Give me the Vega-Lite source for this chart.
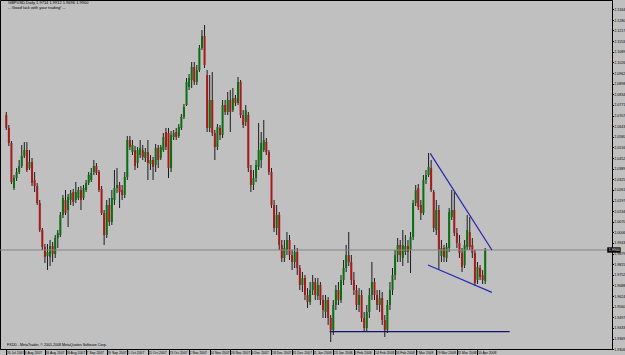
{
  "$schema": "https://vega.github.io/schema/vega-lite/v6.json",
  "width": 612,
  "height": 349,
  "autosize": {"type": "none"},
  "padding": {"left": 0, "top": 0, "right": 13, "bottom": 6},
  "background": "#c0c0c0",
  "config": {
    "view": {"stroke": "#000000", "strokeWidth": 1, "fill": "#c0c0c0"},
    "axis": {"title": null, "grid": false, "labelOverlap": false, "labelBound": false, "labelFlush": false, "labelFont": "Liberation Sans", "labelColor": "#000000", "tickColor": "#000000", "domainColor": "#000000", "tickCount": 200},
    "font": "Liberation Sans"
  },
  "datasets": {
    "ohlc": [
      {"i":0,"o":2.0710,"h":2.0728,"l":2.0620,"c":2.0632},
      {"i":1,"o":2.0632,"h":2.0650,"l":2.0524,"c":2.0542},
      {"i":2,"o":2.0542,"h":2.0554,"l":2.0296,"c":2.0308},
      {"i":3,"o":2.0272,"h":2.0350,"l":2.0260,"c":2.0332},
      {"i":4,"o":2.0332,"h":2.0392,"l":2.0314,"c":2.0368},
      {"i":5,"o":2.0368,"h":2.0440,"l":2.0356,"c":2.0404},
      {"i":6,"o":2.0404,"h":2.0530,"l":2.0392,"c":2.0464},
      {"i":7,"o":2.0464,"h":2.0548,"l":2.0452,"c":2.0500},
      {"i":8,"o":2.0500,"h":2.0548,"l":2.0368,"c":2.0380},
      {"i":9,"o":2.0392,"h":2.0500,"l":2.0380,"c":2.0428},
      {"i":10,"o":2.0428,"h":2.0452,"l":2.0284,"c":2.0302},
      {"i":11,"o":2.0320,"h":2.0368,"l":2.0248,"c":2.0284},
      {"i":12,"o":2.0284,"h":2.0302,"l":2.0170,"c":2.0182},
      {"i":13,"o":2.0182,"h":2.0200,"l":2.0008,"c":2.0020},
      {"i":14,"o":2.0020,"h":2.0032,"l":1.9900,"c":1.9918},
      {"i":15,"o":1.9918,"h":1.9936,"l":1.9822,"c":1.9858},
      {"i":16,"o":1.9864,"h":1.9936,"l":1.9780,"c":1.9888},
      {"i":17,"o":1.9858,"h":1.9960,"l":1.9804,"c":1.9924},
      {"i":18,"o":1.9924,"h":1.9948,"l":1.9828,"c":1.9876},
      {"i":19,"o":1.9876,"h":1.9990,"l":1.9852,"c":1.9972},
      {"i":20,"o":1.9972,"h":2.0020,"l":1.9912,"c":2.0002},
      {"i":21,"o":1.9990,"h":2.0128,"l":1.9978,"c":2.0110},
      {"i":22,"o":2.0110,"h":2.0230,"l":2.0092,"c":2.0212},
      {"i":23,"o":2.0200,"h":2.0260,"l":2.0110,"c":2.0122},
      {"i":24,"o":2.0140,"h":2.0236,"l":2.0038,"c":2.0218},
      {"i":25,"o":2.0200,"h":2.0260,"l":2.0170,"c":2.0242},
      {"i":26,"o":2.0248,"h":2.0266,"l":2.0164,"c":2.0188},
      {"i":27,"o":2.0200,"h":2.0308,"l":2.0182,"c":2.0248},
      {"i":28,"o":2.0212,"h":2.0278,"l":2.0200,"c":2.0260},
      {"i":29,"o":2.0260,"h":2.0284,"l":2.0140,"c":2.0200},
      {"i":30,"o":2.0212,"h":2.0290,"l":2.0200,"c":2.0272},
      {"i":31,"o":2.0260,"h":2.0320,"l":2.0248,"c":2.0302},
      {"i":32,"o":2.0302,"h":2.0368,"l":2.0290,"c":2.0350},
      {"i":33,"o":2.0320,"h":2.0392,"l":2.0308,"c":2.0362},
      {"i":34,"o":2.0368,"h":2.0440,"l":2.0350,"c":2.0404},
      {"i":35,"o":2.0404,"h":2.0422,"l":2.0350,"c":2.0362},
      {"i":36,"o":2.0368,"h":2.0380,"l":2.0248,"c":2.0260},
      {"i":37,"o":2.0266,"h":2.0284,"l":2.0110,"c":2.0122},
      {"i":38,"o":2.0122,"h":2.0140,"l":1.9930,"c":1.9990},
      {"i":39,"o":1.9990,"h":2.0200,"l":1.9972,"c":2.0170},
      {"i":40,"o":2.0170,"h":2.0212,"l":2.0044,"c":2.0068},
      {"i":41,"o":2.0068,"h":2.0260,"l":2.0050,"c":2.0212},
      {"i":42,"o":2.0200,"h":2.0380,"l":2.0170,"c":2.0272},
      {"i":43,"o":2.0272,"h":2.0392,"l":2.0242,"c":2.0290},
      {"i":44,"o":2.0290,"h":2.0308,"l":2.0152,"c":2.0248},
      {"i":45,"o":2.0260,"h":2.0290,"l":2.0200,"c":2.0230},
      {"i":46,"o":2.0230,"h":2.0368,"l":2.0212,"c":2.0338},
      {"i":47,"o":2.0338,"h":2.0584,"l":2.0320,"c":2.0560},
      {"i":48,"o":2.0560,"h":2.0584,"l":2.0500,"c":2.0518},
      {"i":49,"o":2.0488,"h":2.0560,"l":2.0470,"c":2.0530},
      {"i":50,"o":2.0500,"h":2.0524,"l":2.0380,"c":2.0404},
      {"i":51,"o":2.0422,"h":2.0518,"l":2.0392,"c":2.0500},
      {"i":52,"o":2.0470,"h":2.0560,"l":2.0452,"c":2.0512},
      {"i":53,"o":2.0500,"h":2.0530,"l":2.0440,"c":2.0458},
      {"i":54,"o":2.0452,"h":2.0512,"l":2.0428,"c":2.0488},
      {"i":55,"o":2.0488,"h":2.0560,"l":2.0320,"c":2.0422},
      {"i":56,"o":2.0416,"h":2.0470,"l":2.0380,"c":2.0440},
      {"i":57,"o":2.0440,"h":2.0458,"l":2.0320,"c":2.0398},
      {"i":58,"o":2.0410,"h":2.0536,"l":2.0368,"c":2.0512},
      {"i":59,"o":2.0512,"h":2.0530,"l":2.0392,"c":2.0440},
      {"i":60,"o":2.0452,"h":2.0530,"l":2.0440,"c":2.0518},
      {"i":61,"o":2.0500,"h":2.0602,"l":2.0488,"c":2.0578},
      {"i":62,"o":2.0608,"h":2.0632,"l":2.0500,"c":2.0518},
      {"i":63,"o":2.0602,"h":2.0632,"l":2.0332,"c":2.0392},
      {"i":64,"o":2.0392,"h":2.0614,"l":2.0368,"c":2.0590},
      {"i":65,"o":2.0578,"h":2.0620,"l":2.0560,"c":2.0602},
      {"i":66,"o":2.0608,"h":2.0632,"l":2.0560,"c":2.0578},
      {"i":67,"o":2.0584,"h":2.0656,"l":2.0572,"c":2.0638},
      {"i":68,"o":2.0632,"h":2.0716,"l":2.0620,"c":2.0698},
      {"i":69,"o":2.0698,"h":2.0776,"l":2.0686,"c":2.0758},
      {"i":70,"o":2.0770,"h":2.0932,"l":2.0764,"c":2.0908},
      {"i":71,"o":2.0878,"h":2.0956,"l":2.0860,"c":2.0932},
      {"i":72,"o":2.0920,"h":2.1028,"l":2.0872,"c":2.0998},
      {"i":73,"o":2.0998,"h":2.1028,"l":2.0890,"c":2.0908},
      {"i":74,"o":2.0908,"h":2.1010,"l":2.0890,"c":2.0980},
      {"i":75,"o":2.0980,"h":2.1130,"l":2.0968,"c":2.1112},
      {"i":76,"o":2.1112,"h":2.1220,"l":2.1100,"c":2.1184},
      {"i":77,"o":2.1184,"h":2.1250,"l":2.0992,"c":2.1010},
      {"i":78,"o":2.0950,"h":2.0980,"l":2.0608,"c":2.0632},
      {"i":79,"o":2.0632,"h":2.0950,"l":2.0608,"c":2.0800},
      {"i":80,"o":2.0800,"h":2.0968,"l":2.0584,"c":2.0602},
      {"i":81,"o":2.0602,"h":2.0620,"l":2.0440,"c":2.0518},
      {"i":82,"o":2.0518,"h":2.0656,"l":2.0500,"c":2.0638},
      {"i":83,"o":2.0632,"h":2.0650,"l":2.0560,"c":2.0590},
      {"i":84,"o":2.0590,"h":2.0800,"l":2.0572,"c":2.0770},
      {"i":85,"o":2.0770,"h":2.0800,"l":2.0710,"c":2.0728},
      {"i":86,"o":2.0728,"h":2.0848,"l":2.0710,"c":2.0800},
      {"i":87,"o":2.0800,"h":2.0860,"l":2.0608,"c":2.0728},
      {"i":88,"o":2.0740,"h":2.0872,"l":2.0728,"c":2.0812},
      {"i":89,"o":2.0812,"h":2.0830,"l":2.0764,"c":2.0782},
      {"i":90,"o":2.0782,"h":2.0938,"l":2.0770,"c":2.0908},
      {"i":91,"o":2.0908,"h":2.0920,"l":2.0692,"c":2.0710},
      {"i":92,"o":2.0710,"h":2.0740,"l":2.0632,"c":2.0650},
      {"i":93,"o":2.0668,"h":2.0770,"l":2.0644,"c":2.0740},
      {"i":94,"o":2.0710,"h":2.0728,"l":2.0368,"c":2.0392},
      {"i":95,"o":2.0380,"h":2.0410,"l":2.0248,"c":2.0290},
      {"i":96,"o":2.0290,"h":2.0380,"l":2.0260,"c":2.0332},
      {"i":97,"o":2.0332,"h":2.0440,"l":2.0308,"c":2.0410},
      {"i":98,"o":2.0398,"h":2.0662,"l":2.0380,"c":2.0500},
      {"i":99,"o":2.0440,"h":2.0608,"l":2.0392,"c":2.0542},
      {"i":100,"o":2.0500,"h":2.0680,"l":2.0488,"c":2.0560},
      {"i":101,"o":2.0548,"h":2.0572,"l":2.0470,"c":2.0488},
      {"i":102,"o":2.0488,"h":2.0500,"l":2.0350,"c":2.0368},
      {"i":103,"o":2.0368,"h":2.0392,"l":2.0152,"c":2.0170},
      {"i":104,"o":2.0170,"h":2.0200,"l":2.0008,"c":2.0032},
      {"i":105,"o":2.0032,"h":2.0170,"l":1.9990,"c":2.0110},
      {"i":106,"o":2.0110,"h":2.0128,"l":1.9900,"c":1.9930},
      {"i":107,"o":1.9930,"h":1.9960,"l":1.9828,"c":1.9852},
      {"i":108,"o":1.9852,"h":1.9960,"l":1.9828,"c":1.9912},
      {"i":109,"o":1.9900,"h":2.0008,"l":1.9870,"c":1.9960},
      {"i":110,"o":1.9960,"h":1.9990,"l":1.9840,"c":1.9870},
      {"i":111,"o":1.9870,"h":1.9900,"l":1.9780,"c":1.9828},
      {"i":112,"o":1.9828,"h":1.9930,"l":1.9792,"c":1.9888},
      {"i":113,"o":1.9888,"h":1.9912,"l":1.9750,"c":1.9792},
      {"i":114,"o":1.9792,"h":1.9810,"l":1.9660,"c":1.9690},
      {"i":115,"o":1.9690,"h":1.9768,"l":1.9648,"c":1.9732},
      {"i":116,"o":1.9732,"h":1.9750,"l":1.9600,"c":1.9630},
      {"i":117,"o":1.9630,"h":1.9672,"l":1.9552,"c":1.9588},
      {"i":118,"o":1.9588,"h":1.9708,"l":1.9570,"c":1.9660},
      {"i":119,"o":1.9660,"h":1.9750,"l":1.9630,"c":1.9708},
      {"i":120,"o":1.9708,"h":1.9732,"l":1.9600,"c":1.9630},
      {"i":121,"o":1.9624,"h":1.9732,"l":1.9600,"c":1.9690},
      {"i":122,"o":1.9690,"h":1.9708,"l":1.9570,"c":1.9600},
      {"i":123,"o":1.9600,"h":1.9630,"l":1.9492,"c":1.9540},
      {"i":124,"o":1.9528,"h":1.9630,"l":1.9492,"c":1.9600},
      {"i":125,"o":1.9600,"h":1.9618,"l":1.9450,"c":1.9492},
      {"i":126,"o":1.9492,"h":1.9510,"l":1.9348,"c":1.9420},
      {"i":127,"o":1.9420,"h":1.9600,"l":1.9390,"c":1.9570},
      {"i":128,"o":1.9570,"h":1.9690,"l":1.9540,"c":1.9660},
      {"i":129,"o":1.9660,"h":1.9708,"l":1.9570,"c":1.9600},
      {"i":130,"o":1.9600,"h":1.9750,"l":1.9582,"c":1.9720},
      {"i":131,"o":1.9720,"h":1.9840,"l":1.9690,"c":1.9792},
      {"i":132,"o":1.9792,"h":1.9930,"l":1.9768,"c":1.9870},
      {"i":133,"o":1.9870,"h":2.0008,"l":1.9804,"c":1.9828},
      {"i":134,"o":1.9828,"h":1.9870,"l":1.9690,"c":1.9720},
      {"i":135,"o":1.9720,"h":1.9768,"l":1.9630,"c":1.9660},
      {"i":136,"o":1.9660,"h":1.9690,"l":1.9540,"c":1.9570},
      {"i":137,"o":1.9570,"h":1.9672,"l":1.9528,"c":1.9630},
      {"i":138,"o":1.9630,"h":1.9660,"l":1.9468,"c":1.9492},
      {"i":139,"o":1.9492,"h":1.9528,"l":1.9408,"c":1.9432},
      {"i":140,"o":1.9432,"h":1.9570,"l":1.9408,"c":1.9528},
      {"i":141,"o":1.9528,"h":1.9672,"l":1.9492,"c":1.9630},
      {"i":142,"o":1.9630,"h":1.9828,"l":1.9600,"c":1.9708},
      {"i":143,"o":1.9708,"h":1.9732,"l":1.9600,"c":1.9630},
      {"i":144,"o":1.9630,"h":1.9660,"l":1.9540,"c":1.9570},
      {"i":145,"o":1.9570,"h":1.9660,"l":1.9528,"c":1.9612},
      {"i":146,"o":1.9612,"h":1.9648,"l":1.9450,"c":1.9480},
      {"i":147,"o":1.9480,"h":1.9510,"l":1.9378,"c":1.9420},
      {"i":148,"o":1.9420,"h":1.9600,"l":1.9402,"c":1.9570},
      {"i":149,"o":1.9570,"h":1.9708,"l":1.9540,"c":1.9660},
      {"i":150,"o":1.9660,"h":1.9792,"l":1.9630,"c":1.9750},
      {"i":151,"o":1.9750,"h":1.9900,"l":1.9720,"c":1.9870},
      {"i":152,"o":1.9870,"h":1.9972,"l":1.9828,"c":1.9930},
      {"i":153,"o":1.9930,"h":1.9960,"l":1.9828,"c":1.9870},
      {"i":154,"o":1.9852,"h":2.0020,"l":1.9804,"c":1.9930},
      {"i":155,"o":1.9888,"h":1.9990,"l":1.9870,"c":1.9924},
      {"i":156,"o":1.9924,"h":1.9960,"l":1.9822,"c":1.9888},
      {"i":157,"o":1.9900,"h":2.0008,"l":1.9762,"c":1.9978},
      {"i":158,"o":1.9978,"h":2.0200,"l":1.9960,"c":2.0182},
      {"i":159,"o":2.0182,"h":2.0290,"l":2.0164,"c":2.0260},
      {"i":160,"o":2.0272,"h":2.0296,"l":2.0140,"c":2.0158},
      {"i":161,"o":2.0170,"h":2.0200,"l":2.0080,"c":2.0122},
      {"i":162,"o":2.0122,"h":2.0350,"l":2.0110,"c":2.0320},
      {"i":163,"o":2.0320,"h":2.0380,"l":2.0296,"c":2.0350},
      {"i":164,"o":2.0350,"h":2.0482,"l":2.0338,"c":2.0398},
      {"i":165,"o":2.0392,"h":2.0440,"l":2.0248,"c":2.0260},
      {"i":166,"o":2.0248,"h":2.0260,"l":2.0008,"c":2.0032},
      {"i":167,"o":2.0020,"h":2.0200,"l":1.9990,"c":2.0140},
      {"i":168,"o":2.0140,"h":2.0170,"l":1.9780,"c":1.9900},
      {"i":169,"o":1.9864,"h":1.9960,"l":1.9828,"c":1.9912},
      {"i":170,"o":1.9912,"h":1.9930,"l":1.9828,"c":1.9858},
      {"i":171,"o":1.9852,"h":1.9942,"l":1.9828,"c":1.9918},
      {"i":172,"o":1.9912,"h":2.0152,"l":1.9888,"c":2.0128},
      {"i":173,"o":2.0098,"h":2.0260,"l":2.0080,"c":2.0140},
      {"i":174,"o":2.0140,"h":2.0248,"l":1.9984,"c":2.0002},
      {"i":175,"o":2.0002,"h":2.0032,"l":1.9912,"c":1.9942},
      {"i":176,"o":1.9942,"h":1.9990,"l":1.9852,"c":1.9882},
      {"i":177,"o":1.9882,"h":1.9912,"l":1.9768,"c":1.9798},
      {"i":178,"o":1.9810,"h":1.9960,"l":1.9792,"c":1.9930},
      {"i":179,"o":1.9918,"h":2.0110,"l":1.9900,"c":2.0020},
      {"i":180,"o":2.0008,"h":2.0098,"l":1.9900,"c":1.9918},
      {"i":181,"o":1.9930,"h":1.9972,"l":1.9852,"c":1.9882},
      {"i":182,"o":1.9882,"h":1.9900,"l":1.9684,"c":1.9702},
      {"i":183,"o":1.9720,"h":1.9828,"l":1.9696,"c":1.9798},
      {"i":184,"o":1.9792,"h":1.9810,"l":1.9720,"c":1.9738},
      {"i":185,"o":1.9750,"h":1.9780,"l":1.9696,"c":1.9720},
      {"i":186,"o":1.9714,"h":1.9912,"l":1.9696,"c":1.9900}
    ],
    "lines": [
      {"k":"wedge","i1":164.65,"p1":2.0480,"i2":188.6,"p2":1.9900},
      {"k":"wedge","i1":163.77,"p1":1.9810,"i2":188.6,"p2":1.9646},
      {"k":"support","i1":125.57,"p1":1.9410,"i2":195.5,"p2":1.9410}
    ],
    "bid": [{"p": 1.9900}],
    "notes": [
      {"t": "GBPUSD,Daily  1.9714 1.9912 1.9696 1.9900", "row": "top1"},
      {"t": "-- Good luck with your trading! --", "row": "top2"},
      {"t": "FXDD - MetaTrader, © 2001-2008 MetaQuotes Software Corp.", "row": "foot"}
    ]
  },
  "layer": [
    {
      "data": {"name": "ohlc"},
      "mark": {"type": "rule", "strokeWidth": 1, "color": "#1c1c1c"},
      "encoding": {
        "x": {
          "field": "i", "type": "quantitative",
          "scale": {"domain": [-0.5, 233.3], "nice": false, "zero": false},
          "axis": {
            "orient": "bottom",
            "values": [0,7,15,23,31,39,47,55,63,71,79,87,95,103,111,119,127,135,143,151,159,167,175,183],
            "tickCount": 200,
            "labelExpr": "['26 Jul 2007','6 Aug 2007','16 Aug 2007','28 Aug 2007','7 Sep 2007','19 Sep 2007','1 Oct 2007','11 Oct 2007','23 Oct 2007','2 Nov 2007','14 Nov 2007','26 Nov 2007','6 Dec 2007','18 Dec 2007','31 Dec 2007','11 Jan 2008','23 Jan 2008','4 Feb 2008','14 Feb 2008','26 Feb 2008','7 Mar 2008','19 Mar 2008','31 Mar 2008','10 Apr 2008'][floor((datum.value+1)/8)]",
            "ticks": true, "tickSize": 6, "tickWidth": 1,
            "labelPadding": -5, "labelAlign": "left", "labelBaseline": "top", "labelDx": 1.1,
            "labelFontSize": 3.4, "labelOverlap": false, "labelBound": false, "labelFlush": false,
            "domain": true, "grid": false, "title": null
          }
        },
        "y": {
          "field": "l", "type": "quantitative",
          "scale": {"domain": [1.9306, 2.14], "nice": false, "zero": false},
          "axis": {
            "orient": "right",
            "values": [2.1344,2.1280,2.1217,2.1153,2.1089,2.1026,2.0962,2.0898,2.0834,2.0771,2.0707,2.0643,2.0580,2.0516,2.0452,2.0389,2.0325,2.0261,2.0197,2.0134,2.0070,2.0006,1.9943,1.9879,1.9815,1.9752,1.9688,1.9624,1.9560,1.9497,1.9433,1.9369,1.9306],
            "tickCount": 200,
            "format": ".4f",
            "ticks": true, "tickSize": 1.5,
            "labelPadding": 0.3, "labelAlign": "left", "labelBaseline": "middle",
            "labelFontSize": 3.6, "labelOverlap": false, "labelBound": false, "labelFlush": false,
            "domain": true, "grid": false, "title": null
          }
        },
        "y2": {"field": "h"}
      }
    },
    {
      "data": {"name": "ohlc"},
      "mark": {"type": "bar", "width": 2},
      "encoding": {
        "x": {"field": "i", "type": "quantitative", "scale": {"domain": [-0.5, 233.3], "nice": false, "zero": false}},
        "y": {"field": "o", "type": "quantitative", "scale": {"domain": [1.9306, 2.14], "nice": false, "zero": false}},
        "y2": {"field": "c"},
        "color": {"condition": {"test": "datum.c >= datum.o", "value": "#0b6f10"}, "value": "#a81a1a"}
      }
    },
    {
      "data": {"name": "bid"},
      "mark": {"type": "rule", "color": "#858585", "strokeWidth": 1},
      "encoding": {
        "y": {"field": "p", "type": "quantitative", "scale": {"domain": [1.9306, 2.14], "nice": false, "zero": false}}
      }
    },
    {
      "data": {"name": "lines"},
      "mark": {"type": "rule", "strokeWidth": 1.3},
      "encoding": {
        "x": {"field": "i1", "type": "quantitative", "scale": {"domain": [-0.5, 233.3], "nice": false, "zero": false}},
        "x2": {"field": "i2"},
        "y": {"field": "p1", "type": "quantitative", "scale": {"domain": [1.9306, 2.14], "nice": false, "zero": false}},
        "y2": {"field": "p2"},
        "color": {"condition": {"test": "datum.k == 'support'", "value": "#14146e"}, "value": "#2a2ab4"}
      }
    },
    {
      "data": {"name": "bid"},
      "mark": {"type": "rect", "color": "#000000", "clip": false},
      "encoding": {
        "x": {"datum": 233.4, "type": "quantitative", "scale": {"domain": [-0.5, 233.3], "nice": false, "zero": false}},
        "x2": {"datum": 238.6},
        "y": {"datum": 1.9884, "type": "quantitative", "scale": {"domain": [1.9306, 2.14], "nice": false, "zero": false}},
        "y2": {"datum": 1.9916}
      }
    },
    {
      "data": {"name": "bid"},
      "mark": {"type": "text", "color": "#ffffff", "align": "left", "baseline": "middle", "fontSize": 3.6, "font": "Liberation Sans", "clip": false},
      "encoding": {
        "x": {"datum": 233.95, "type": "quantitative", "scale": {"domain": [-0.5, 233.3], "nice": false, "zero": false}},
        "y": {"field": "p", "type": "quantitative", "scale": {"domain": [1.9306, 2.14], "nice": false, "zero": false}},
        "text": {"field": "p", "format": ".4f"}
      }
    },
    {
      "data": {"name": "notes"},
      "transform": [{"filter": "datum.row == 'top1'"}],
      "mark": {"type": "text", "align": "left", "baseline": "middle", "fontSize": 4, "font": "Liberation Sans", "color": "#000000"},
      "encoding": {
        "x": {"datum": 0.7, "type": "quantitative", "scale": {"domain": [-0.5, 233.3], "nice": false, "zero": false}},
        "y": {"datum": 2.1380, "type": "quantitative", "scale": {"domain": [1.9306, 2.14], "nice": false, "zero": false}},
        "text": {"field": "t"}
      }
    },
    {
      "data": {"name": "notes"},
      "transform": [{"filter": "datum.row == 'top2'"}],
      "mark": {"type": "text", "align": "left", "baseline": "middle", "fontSize": 4, "font": "Liberation Sans", "color": "#000000"},
      "encoding": {
        "x": {"datum": 0.7, "type": "quantitative", "scale": {"domain": [-0.5, 233.3], "nice": false, "zero": false}},
        "y": {"datum": 2.1354, "type": "quantitative", "scale": {"domain": [1.9306, 2.14], "nice": false, "zero": false}},
        "text": {"field": "t"}
      }
    },
    {
      "data": {"name": "notes"},
      "transform": [{"filter": "datum.row == 'foot'"}],
      "mark": {"type": "text", "align": "left", "baseline": "middle", "fontSize": 3.6, "font": "Liberation Sans", "color": "#000000"},
      "encoding": {
        "x": {"datum": 0.3, "type": "quantitative", "scale": {"domain": [-0.5, 233.3], "nice": false, "zero": false}},
        "y": {"datum": 1.9330, "type": "quantitative", "scale": {"domain": [1.9306, 2.14], "nice": false, "zero": false}},
        "text": {"field": "t"}
      }
    }
  ]
}
